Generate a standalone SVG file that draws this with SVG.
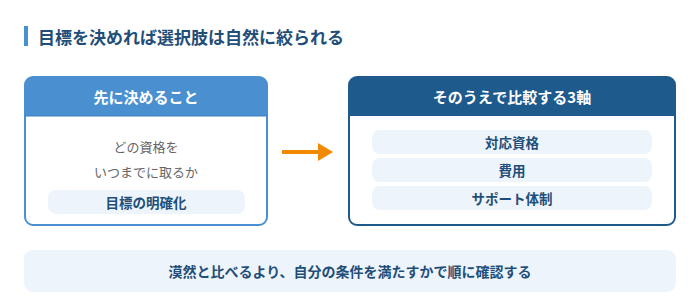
<svg xmlns="http://www.w3.org/2000/svg" width="700" height="302" viewBox="0 0 700 302">
<defs>
<style>
text{font-family:"Noto Sans CJK JP","Noto Sans",sans-serif;text-anchor:middle;dominant-baseline:central}
.title{font-size:17px;font-weight:700;fill:#1f4e79;text-anchor:start}
.hdr{font-size:15px;font-weight:700;fill:#ffffff}
.body{font-size:13px;fill:#666666}
.pill{fill:#edf4fb}
.pt{font-size:13.5px;font-weight:700;fill:#1f4e79}
.note{font-size:14px;font-weight:700;fill:#1f4e79}
</style>
<marker id="ah" markerUnits="userSpaceOnUse" markerWidth="16" markerHeight="18" refX="1" refY="9" orient="auto">
<path d="M0,0 L15,9 L0,18 Z" fill="#f28a00"/>
</marker>
</defs>
<rect width="700" height="302" fill="#ffffff"/>
<g id="title">
<rect x="24" y="26" width="4" height="20" fill="#4a90d0"/>
<text class="title" x="38" y="36">目標を決めれば選択肢は自然に絞られる</text>
</g>
<g id="left">
<rect x="25" y="77" width="242" height="148" rx="8" fill="#ffffff" stroke="#4a90d0" stroke-width="2"/>
<path d="M25,116 V85 a8,8 0 0 1 8,-8 H259 a8,8 0 0 1 8,8 V116 Z" fill="#4a90d0"/>
<line x1="25" y1="116" x2="267" y2="116" stroke="#3a7fbf" stroke-width="1"/>
<text class="hdr" x="146" y="96">先に決めること</text>
<text class="body" x="146" y="146">どの資格を</text>
<text class="body" x="146" y="171">いつまでに取るか</text>
<rect class="pill" x="48" y="190" width="197" height="24" rx="8"/>
<text class="pt" x="146" y="202">目標の明確化</text>
</g>
<g id="connectors">
<line x1="282" y1="152" x2="319" y2="152" stroke="#f28a00" stroke-width="4" marker-end="url(#ah)"/>
</g>
<g id="right">
<rect x="349" y="77" width="326" height="148" rx="8" fill="#ffffff" stroke="#1f5a8c" stroke-width="2"/>
<path d="M349,116 V85 a8,8 0 0 1 8,-8 H667 a8,8 0 0 1 8,8 V116 Z" fill="#1f5a8c"/>
<text class="hdr" x="512" y="96">そのうえで比較する3軸</text>
<rect class="pill" x="372" y="130" width="280" height="24" rx="8"/>
<text class="pt" x="512" y="142">対応資格</text>
<rect class="pill" x="372" y="158" width="280" height="24" rx="8"/>
<text class="pt" x="512" y="170">費用</text>
<rect class="pill" x="372" y="186" width="280" height="24" rx="8"/>
<text class="pt" x="512" y="198">サポート体制</text>
</g>
<g id="bottom">
<rect x="24" y="250" width="652" height="42" rx="9" fill="#edf4fb"/>
<text class="note" x="350" y="271">漠然と比べるより、自分の条件を満たすかで順に確認する</text>
</g>
</svg>
